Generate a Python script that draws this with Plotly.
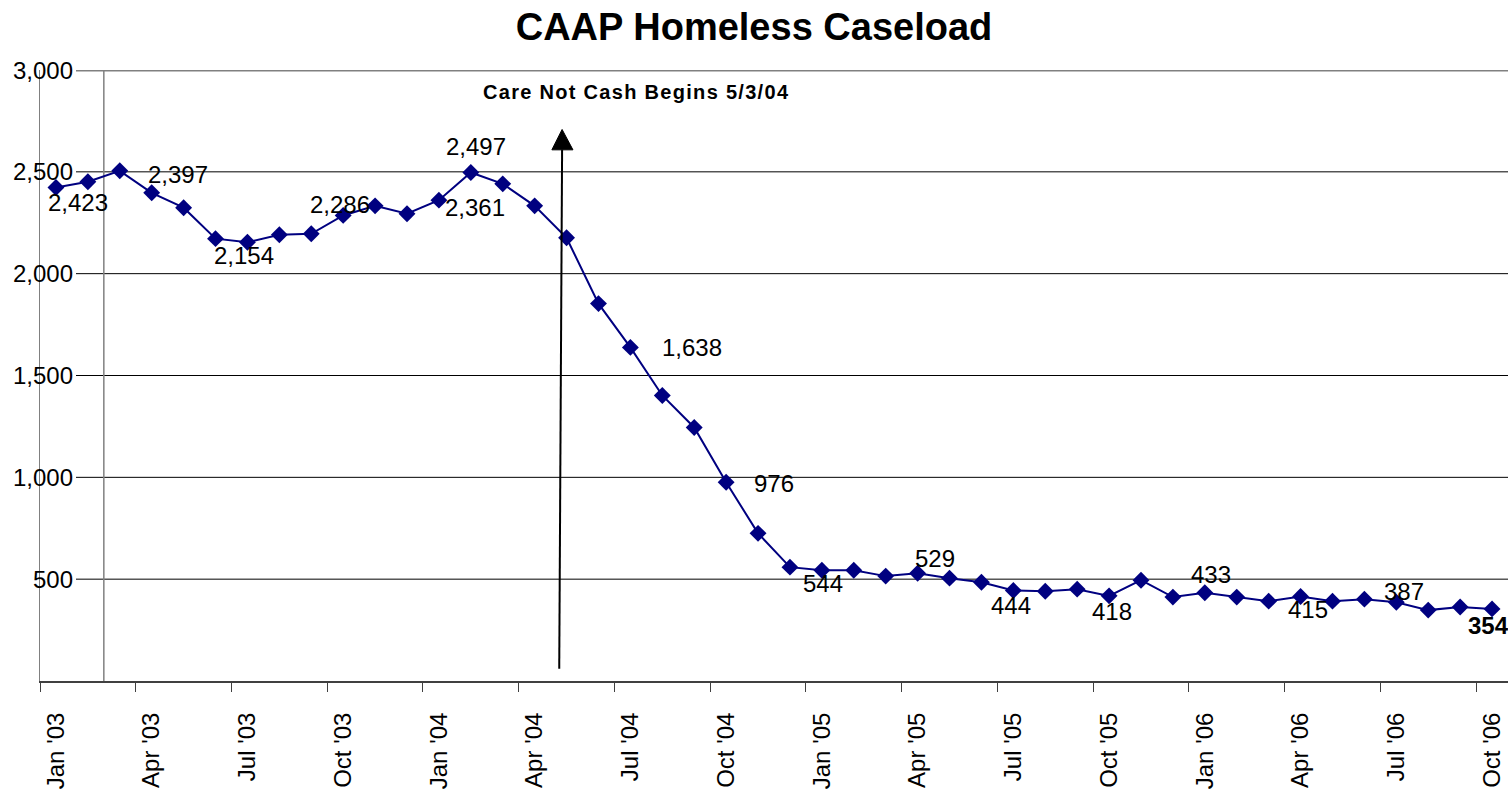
import plotly.graph_objects as go

# Monthly CAAP homeless caseload, Jan 2003 - Oct 2006
months = [
    "Jan '03", "Feb '03", "Mar '03", "Apr '03", "May '03", "Jun '03",
    "Jul '03", "Aug '03", "Sep '03", "Oct '03", "Nov '03", "Dec '03",
    "Jan '04", "Feb '04", "Mar '04", "Apr '04", "May '04", "Jun '04",
    "Jul '04", "Aug '04", "Sep '04", "Oct '04", "Nov '04", "Dec '04",
    "Jan '05", "Feb '05", "Mar '05", "Apr '05", "May '05", "Jun '05",
    "Jul '05", "Aug '05", "Sep '05", "Oct '05", "Nov '05", "Dec '05",
    "Jan '06", "Feb '06", "Mar '06", "Apr '06", "May '06", "Jun '06",
    "Jul '06", "Aug '06", "Sep '06", "Oct '06",
]
caseload = [
    2423, 2451, 2505, 2397, 2324, 2172, 2154, 2191, 2196, 2286, 2333, 2294,
    2361, 2497, 2441, 2333, 2176, 1853, 1638, 1402, 1245, 976, 725, 559,
    544, 544, 515, 529, 505, 485, 444, 441, 451, 418, 495, 412,
    433, 412, 392, 415, 392, 402, 387, 348, 363, 354,
]

# Months that carry a value label, with pixel offsets (dx, dy) and weight
labelled = [
    (0, 22, -15, False), (3, 26, 18, False), (6, -3, -13, False),
    (9, -3, 11, False), (12, 36, -7, False), (13, 5, 26, False),
    (18, 62, 0, False), (21, 48, -1, False), (24, 1, -13, False),
    (27, 17, 15, False), (30, -2, -15, False), (33, 3, -16, False),
    (36, 6, 18, False), (39, 7, -13, False), (42, 8, 11, False),
    (45, -4, -17, True),
]

y_ticks = [500, 1000, 1500, 2000, 2500, 3000]
event_text = "Care Not Cash Begins 5/3/04"
event_x = 15.8  # 3 May 2004 on the month-index axis

FONT = "Liberation Sans, Arial, sans-serif"
NAVY = "#000080"

x_idx = list(range(len(months)))

fig = go.Figure()
fig.add_trace(go.Scatter(
    x=x_idx, y=caseload, mode="lines+markers",
    line=dict(color=NAVY, width=2),
    marker=dict(symbol="diamond", size=13, color=NAVY),
    hoverinfo="skip", showlegend=False,
))

# Quarterly labels centred on the month, tick marks on month boundaries
label_pos = list(range(0, len(months), 3))
label_txt = [months[i] for i in label_pos]

annotations = []
for i, dx, dy, bold in labelled:
    v = caseload[i]
    txt = f"{v:,}"
    if bold:
        txt = f"<b>{txt}</b>"
    annotations.append(dict(
        x=i, y=v, xref="x", yref="y", text=txt, showarrow=False,
        xshift=dx, yshift=dy, font=dict(family=FONT, size=24, color="black"),
    ))

plot_w = 1508 - 40
label_right = (75 - 40) / plot_w
for v in y_ticks:
    annotations.append(dict(
        x=label_right, y=v, xref="paper", yref="y", text=f"{v:,}",
        showarrow=False, xanchor="right", yanchor="middle",
        font=dict(family=FONT, size=24, color="black"),
    ))

annotations.append(dict(
    x=(636 - 40) / plot_w, y=1 - (92.5 - 70) / 613, xref="paper", yref="paper",
    text=f"<span style='letter-spacing:1.3px'><b>{event_text}</b></span>",
    showarrow=False, xanchor="center", yanchor="middle",
    font=dict(family=FONT, size=20, color="black"),
))

shapes = []
grid_x0 = (76 - 40) / plot_w
for v in y_ticks[:-1]:
    shapes.append(dict(type="line", xref="paper", yref="y", x0=grid_x0, x1=1,
                       y0=v, y1=v, line=dict(color="black", width=1), layer="below"))
# top border
shapes.append(dict(type="line", xref="paper", yref="y", x0=grid_x0, x1=1,
                   y0=3000, y1=3000, line=dict(color="#808080", width=3), layer="below"))
# secondary vertical rule
shapes.append(dict(type="line", xref="x", yref="y", x0=1.5, x1=1.5,
                   y0=0, y1=3000, line=dict(color="#808080", width=1.5), layer="below"))
# event arrow
shapes.append(dict(type="line", xref="x", yref="y", x0=event_x - 0.03, x1=event_x + 0.06,
                   y0=60, y1=2610, line=dict(color="black", width=2)))
shapes.append(dict(type="path", xref="x", yref="y",
                   path=f"M {event_x - 0.26},2608 L {event_x + 0.40},2608 "
                        f"L {event_x + 0.06},2708 Z",
                   fillcolor="black", line=dict(color="black", width=1)))

fig.update_layout(
    width=1508, height=789,
    margin=dict(l=40, r=0, t=70, b=106),
    paper_bgcolor="white", plot_bgcolor="white",
    title=dict(text="<b>CAAP Homeless Caseload</b>", x=0.5, xanchor="center",
               y=1 - 27 / 789, yanchor="middle",
               font=dict(family=FONT, size=38, color="black")),
    xaxis=dict(
        range=[-0.5, len(months) - 0.5], tickmode="array",
        tickvals=label_pos, ticktext=label_txt, tickangle=-90,
        ticks="", ticklabelstandoff=20,
        minor=dict(ticks="outside", ticklen=9, tickcolor="#404040", tickwidth=1,
                   tickmode="linear", tick0=-0.5, dtick=3, showgrid=False),
        showgrid=False, zeroline=False, showline=True,
        linecolor="#404040", linewidth=2,
        tickfont=dict(family=FONT, size=24, color="black"),
    ),
    yaxis=dict(
        range=[0, 3000], showticklabels=False, showgrid=False, zeroline=False,
        showline=True, linecolor="#808080", linewidth=1, ticks="",
    ),
    annotations=annotations, shapes=shapes,
)

fig.write_html("out.html")
